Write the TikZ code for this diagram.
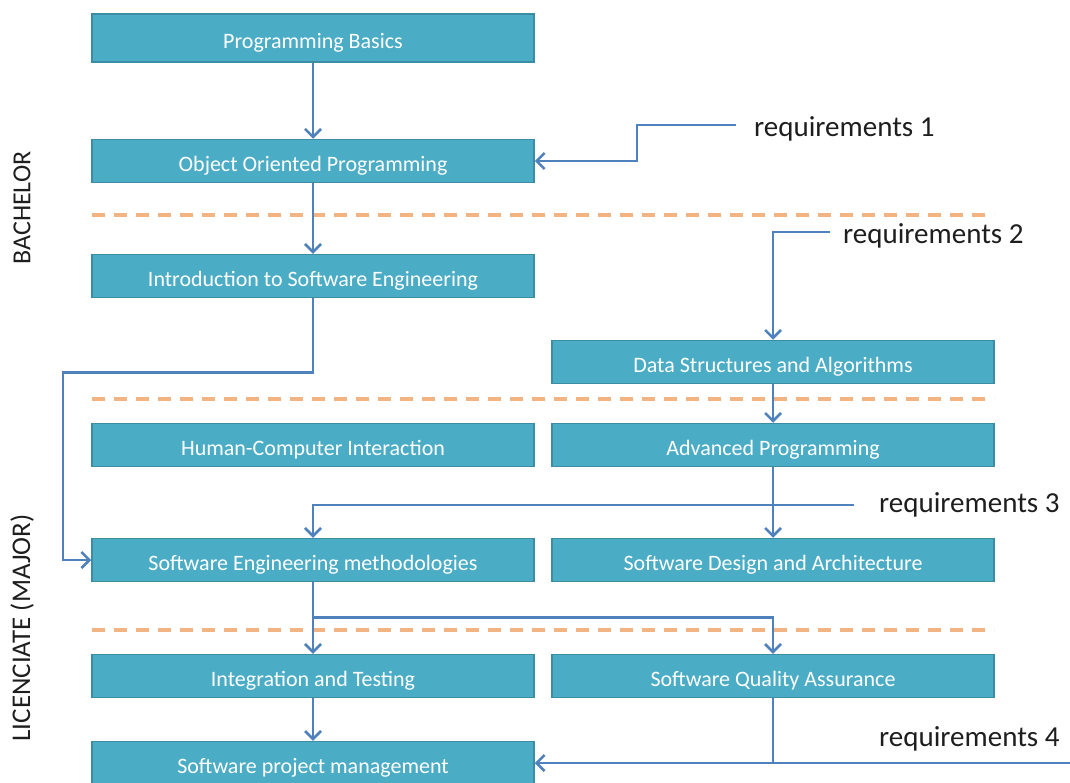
\documentclass[tikz,border=0pt]{standalone}
\usepackage{fontspec}
\setmainfont{Carlito}
\usetikzlibrary{arrows.meta}
\definecolor{courseblue}{HTML}{4BACC6}
\definecolor{courseedge}{HTML}{3C8CA3}
\definecolor{flowblue}{HTML}{4F81BD}
\definecolor{levelorange}{HTML}{F2B482}
\definecolor{labelgray}{HTML}{1E1E1E}

\begin{document}
\begin{tikzpicture}[x=1pt, y=-1pt]
  \def\coursewidth{442pt}
  \def\courseheight{43pt}
  \tikzstyle{course} = [rectangle, draw=courseedge, fill=courseblue, line width=1.5pt, text=white, minimum width=\coursewidth, minimum height=\courseheight, inner sep=0pt, text height=21pt, text depth=0pt, font=\fontsize{22}{26}\selectfont]
  \tikzstyle{flow} = [draw=flowblue, line width=2.5pt, -{Straight Barb[length=8pt,width=16pt]}]
  \tikzstyle{level} = [draw=levelorange, line width=4pt, dash pattern=on 13pt off 9pt]
  \tikzstyle{req} = [anchor=west, inner sep=2pt, text=labelgray, font=\fontsize{29}{33}\selectfont]
  \tikzstyle{degree} = [rotate=90, inner sep=0pt, text=labelgray, font=\fontsize{26}{30}\selectfont]

  \useasboundingbox (0,0) rectangle (1070,782);

  % level separators
  \draw[level] (92,215) -- (994,215);
  \draw[level] (92,399) -- (994,399);
  \draw[level] (92,630) -- (994,630);

  \node[degree] (bachelor) at (22,208) {BACHELOR};
  \node[degree, font=\fontsize{27}{31}\selectfont] (licenciate) at (22,628) {LICENCIATE (MAJOR)};

  % courses
  \node[course, minimum height=48pt] (basics) at (313,38) {Programming Basics};
  \node[course] (oop) at (313,161) {Object Oriented Programming};
  \node[course] (intro) at (313,276) {Introduction to Software Engineering};
  \node[course] (dsa) at (773,362) {Data Structures and Algorithms};
  \node[course] (hci) at (313,445) {Human-Computer Interaction};
  \node[course] (advprog) at (773,445) {Advanced Programming};
  \node[course] (semeth) at (313,560) {Software Engineering methodologies};
  \node[course] (design) at (773,560) {Software Design and Architecture};
  \node[course] (testing) at (313,676) {Integration and Testing};
  \node[course] (sqa) at (773,676) {Software Quality Assurance};
  \node[course] (spm) at (313,763) {Software project management};

  % requirements
  \node[req] (req1) at (752,129) {requirements 1};
  \node[req] (req2) at (841,236) {requirements 2};
  \node[req] (req3) at (877,505) {requirements 3};
  \node[req] (req4) at (877,739) {requirements 4};
  \coordinate (req4end) at (1072,763);

  \draw[flow] (basics) -- (oop);
  \draw[flow] (oop) -- (intro);
  \draw[flow, shorten <=16pt] (req1.west) ++(0,-4) -- ++(-115,0) |- (oop.east);
  \draw[flow] (intro.south) -- ++(0,74) -- ++(-250,0) |- (semeth.west);
  \draw[flow, shorten <=11pt] (req2.west) ++(0,-4) -| (dsa.north);
  \draw[flow] (dsa) -- (advprog);
  \draw[flow] (advprog) -- (design);
  \draw[flow, shorten <=23pt] (req3.west) -| (semeth.north);
  \draw[flow] (semeth) -- (testing);
  \draw[flow] (semeth.south) ++(0,35) -| (sqa.north);
  \draw[flow] (testing) -- (spm);
  \draw[flow] (sqa.south) |- (spm.east);
  \draw[flow, -] (req4end) -- (sqa.south |- spm.east);

\end{tikzpicture}
\end{document}
